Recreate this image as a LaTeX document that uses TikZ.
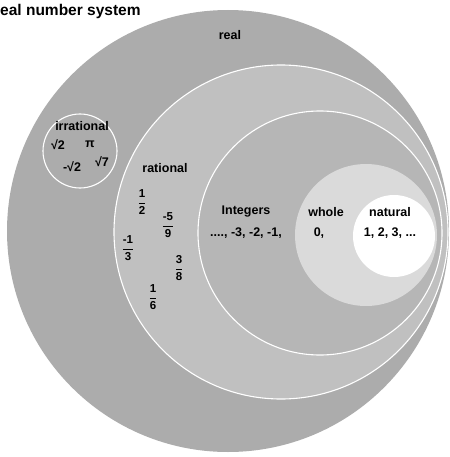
\documentclass[tikz,border=0pt]{standalone}
\usepackage{amsmath}
\usepackage{fontspec}
\setmainfont{Liberation Sans}
\usepackage{tikz}
\usetikzlibrary{positioning}
\usepackage{xcolor}
\definecolor{realgray}{RGB}{172,172,172}
\definecolor{ratgray}{RGB}{192,192,192}
\definecolor{intgray}{RGB}{182,182,182}
\definecolor{wholegray}{RGB}{218,218,218}

\newcommand{\numfrac}[2]{$\dfrac{\text{#1}}{\text{#2}}$}

\begin{document}
\begin{tikzpicture}[
    x=1pt, y=-1pt,
    set/.style={draw=white, line width=1.1pt},
    lbl/.style={inner sep=1pt, font=\fontsize{12.5}{15}\selectfont\bfseries},
    num/.style={inner sep=1pt, font=\fontsize{12.5}{14}\selectfont\bfseries},
    fr/.style={inner sep=0pt, font=\fontsize{11.5}{13}\selectfont\bfseries}
]
    \useasboundingbox (0,0) rectangle (449,457);

    % sets, outer to inner
    \fill[realgray] (228,231) circle (221);
    \filldraw[set, fill=realgray] (80,151) circle (37);
    \filldraw[set, fill=ratgray] (281,232) circle (167);
    \filldraw[set, fill=intgray] (320,233) circle (122);
    \fill[wholegray] (366,235) circle (71);
    \fill[white] (394,236) circle (41);

    \node (title) [anchor=west, inner sep=0pt, font=\fontsize{15.5}{17}\selectfont\bfseries] at (0,11) {eal number system};
    \node (real) [lbl] at (230,35) {real};

    \node (irr) [lbl] at (82,126) {irrational};
    \node (sqrt2) [num] at (58,145) {√2};
    \node (pi) [num] at (90,144) {π};
    \node (msqrt2) [num] at (72,167) {-√2};
    \node (sqrt7) [num] at (102,162) {√7};

    \node (rat) [lbl] at (165,168) {rational};
    \node (f1) [fr] at (142,202) {\numfrac{1}{2}};
    \node (f2) [fr] at (168,225) {\numfrac{-5}{9}};
    \node (f3) [fr] at (128,248) {\numfrac{-1}{3}};
    \node (f4) [fr] at (179,268) {\numfrac{3}{8}};
    \node (f5) [fr] at (153,297) {\numfrac{1}{6}};

    \node (int) [lbl] at (246,212) {Integers};
    \node (intnum) [num] at (246,233) {...., -3, -2, -1,};
    \node (whole) [lbl] at (326,212) {whole};
    \node (wholenum) [num] at (319,233) {0,};
    \node (nat) [lbl] at (390,212) {natural};
    \node (natnum) [num] at (390,233) {1, 2, 3, ...};
\end{tikzpicture}
\end{document}
